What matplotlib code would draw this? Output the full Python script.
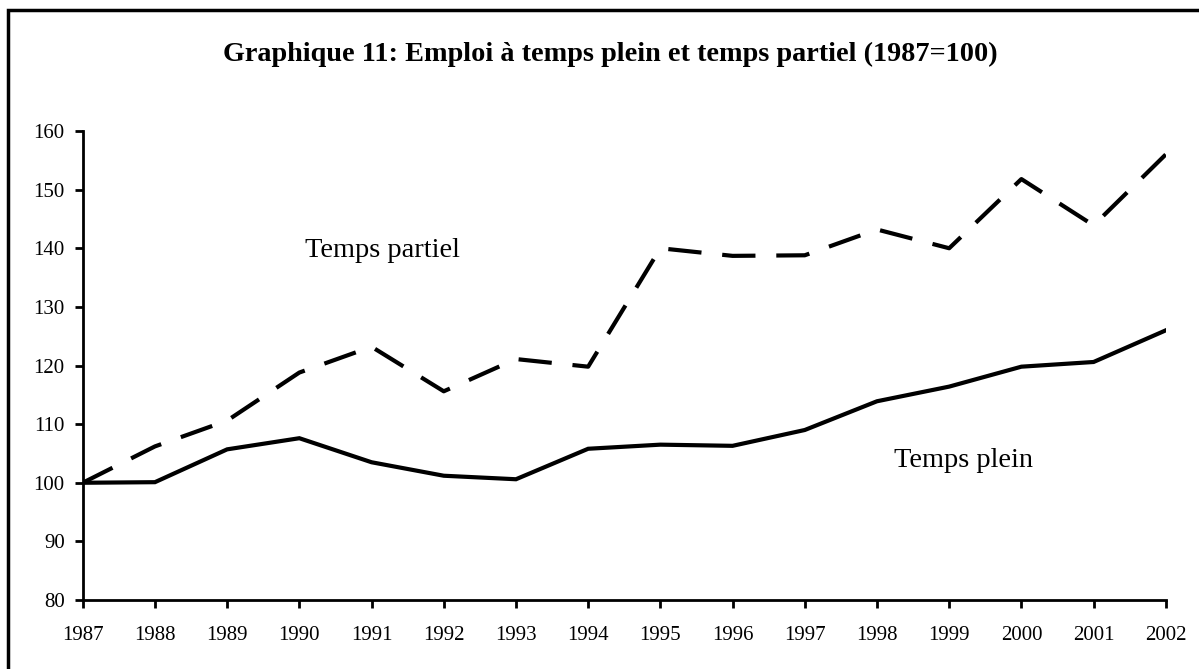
import numpy as np
import matplotlib
matplotlib.use("Agg")
import matplotlib.pyplot as plt
from matplotlib.patches import Rectangle

years = list(range(1987, 2003))
temps_plein = [100.0, 100.1, 105.7, 107.6, 103.5, 101.2, 100.6, 105.8,
               106.5, 106.3, 109.0, 113.9, 116.4, 119.8, 120.6, 126.0]
temps_partiel = [100.0, 106.2, 110.6, 118.8, 123.2, 115.6, 121.1, 119.8,
                 140.0, 138.7, 138.8, 143.2, 140.0, 151.8, 143.9, 156.0]

plt.rcParams['font.family'] = ['Liberation Serif', 'DejaVu Serif']

fig = plt.figure(figsize=(11.99, 6.69), dpi=100)
ax = fig.add_axes([0.069, 0.1031, 0.9033, 0.7011])

ax.plot(years, temps_plein, color='black', lw=3, solid_joinstyle='miter')
ax.plot(years, temps_partiel, color='black', lw=3, dashes=(8, 5))

ax.set_xlim(1987, 2002)
ax.set_ylim(80, 160)
ax.set_xticks(years)
ax.set_yticks(np.arange(80, 161, 10))
ax.spines['top'].set_visible(False)
ax.spines['right'].set_visible(False)
for s in ['left', 'bottom']:
    ax.spines[s].set_linewidth(2)
    ax.spines[s].set_clip_on(False)
ax.tick_params(axis='both', direction='out', length=6, width=2, labelsize=15)
ax.tick_params(axis='x', pad=13)
ax.tick_params(axis='y', pad=7)

ax.text(1991.15, 139.6, "Temps partiel", fontsize=20.4, ha='center', va='center')
ax.text(1999.2, 103.8, "Temps plein", fontsize=20.4, ha='center', va='center')

fig.text(610 / 1199, 1 - 54 / 669, "Graphique 11: Emploi à temps plein et temps partiel (1987=100)",
         fontsize=20.3, fontweight='bold', ha='center', va='center')

# frame around the chart (only left and top visible in the picture)
fig.patches.append(Rectangle((8 / 1199, -0.1), 1.2, 1 - 10 / 669 + 0.1,
                             transform=fig.transFigure, fill=False,
                             edgecolor='black', lw=2.5, clip_on=False))

fig.savefig("out.png", dpi=100)
